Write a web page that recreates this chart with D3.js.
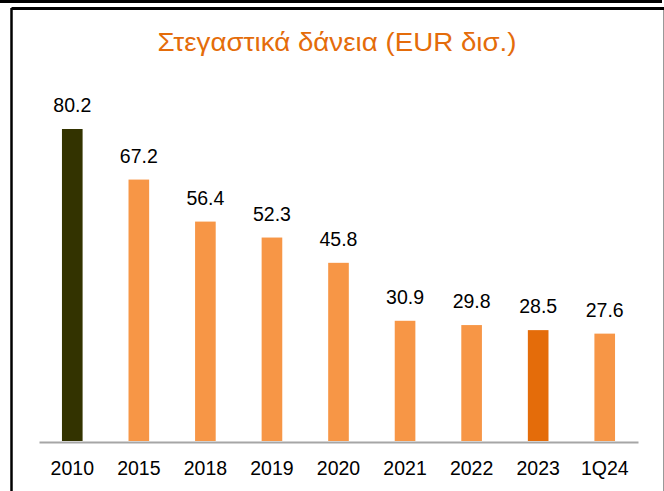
<!DOCTYPE html>
<html>
<head>
<meta charset="utf-8">
<script src="https://cdn.jsdelivr.net/npm/d3@7"></script>
<style>
  body { margin: 0; background: #fff; }
  svg { display: block; font-family: "Liberation Sans", Arial, Helvetica, sans-serif; }
</style>
</head>
<body>
<div class="chart"></div>
<script>
// chart data
const categories = ["2010", "2015", "2018", "2019", "2020", "2021", "2022", "2023", "1Q24"];
const values = [80.2, 67.2, 56.4, 52.3, 45.8, 30.9, 29.8, 28.5, 27.6];
const titleText = "Στεγαστικά δάνεια (EUR δισ.)";

const width = 664, height = 491;
const baseY = 441; // y of axis line
const colorFor = (c) => c === "2010" ? "#333300" : (c === "2023" ? "#E46C0A" : "#F79646");

const svg = d3.select(".chart").append("svg")
    .attr("width", width)
    .attr("height", height);

// frame lines
svg.append("line").attr("x1", 0).attr("x2", 662).attr("y1", 1.5).attr("y2", 1.5)
    .attr("stroke", "#000").attr("stroke-width", 3);
svg.append("line").attr("x1", 11.5).attr("x2", 664).attr("y1", 8.5).attr("y2", 8.5)
    .attr("stroke", "#000").attr("stroke-width", 3);
svg.append("line").attr("x1", 11.5).attr("x2", 11.5).attr("y1", 8).attr("y2", height)
    .attr("stroke", "#000").attr("stroke-width", 2.5);
svg.append("line").attr("x1", 663.5).attr("x2", 663.5).attr("y1", 10).attr("y2", height)
    .attr("stroke", "#999").attr("stroke-width", 1);

// title (stretched a bit to match the wider original font)
svg.append("text")
    .attr("x", 337)
    .attr("y", 51)
    .attr("text-anchor", "middle")
    .attr("fill", "#E46C0A")
    .attr("textLength", 359)
    .attr("lengthAdjust", "spacingAndGlyphs")
    .style("font-size", "25px")
    .text(titleText);

const x = d3.scaleBand()
    .domain(categories)
    .range([39, 638])
    .paddingInner(0.69)
    .paddingOuter(0.345);

const y = d3.scaleLinear()
    .domain([0, 80.2])
    .range([baseY, 129]);

// bars
svg.selectAll("rect.bar")
    .data(categories)
    .enter()
    .append("rect")
    .attr("class", "bar")
    .attr("x", d => x(d))
    .attr("width", x.bandwidth())
    .attr("y", (d, i) => y(values[i]))
    .attr("height", (d, i) => baseY - y(values[i]))
    .attr("fill", d => colorFor(d));

// value labels
svg.selectAll("text.val")
    .data(categories)
    .enter()
    .append("text")
    .attr("class", "val")
    .attr("x", d => x(d) + x.bandwidth() / 2)
    .attr("y", (d, i) => y(values[i]) - 17)
    .attr("text-anchor", "middle")
    .attr("fill", "#000")
    .style("font-size", "19.5px")
    .text((d, i) => values[i].toFixed(1));

// x axis
const xAxis = svg.append("g")
    .attr("transform", `translate(0,${baseY + 1})`)
    .call(d3.axisBottom(x).tickSize(0).tickPadding(19));
xAxis.select(".domain").attr("stroke", "#A6A6A6").attr("stroke-width", 2);
xAxis.selectAll("text")
    .attr("fill", "#000")
    .style("font-size", "19.5px")
    .style("font-family", "\"Liberation Sans\", Arial, sans-serif");
</script>
</body>
</html>
